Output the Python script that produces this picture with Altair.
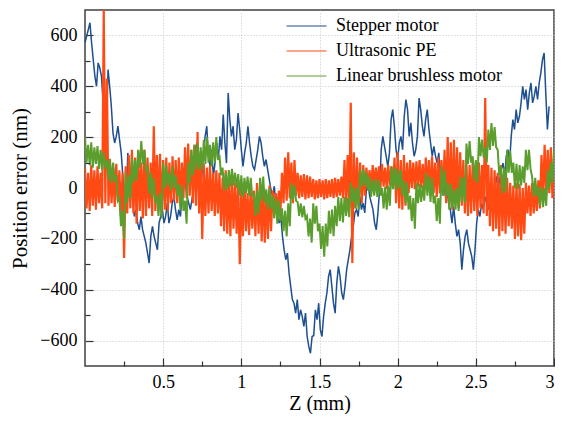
import altair as alt
import pandas as pd

series = ["Stepper motor", "Ultrasonic PE", "Linear brushless motor"]
colors = ["#1d4f91", "#ff4a14", "#5c9e2e"]

# Stepper motor: sampled every 1/95 mm
blue = [571,597,623,650,571,505,440,400,492,472,
 440,335,269,230,466,400,321,217,177,203,
 243,190,138,46,-52,-85,138,72,20,-59,
 -112,-85,-138,-164,-112,-164,-190,-217,-256,-295,
 -190,-151,-190,-217,-243,-138,-112,-85,-138,-112,
 -59,-138,-112,-59,-33,-85,-125,-85,-112,-33,
 7,20,-33,-59,-85,-46,-7,151,177,125,
 -33,46,138,203,243,125,85,151,46,98,
 177,112,203,151,289,177,98,374,269,203,
 243,151,190,295,230,151,85,138,177,243,
 177,125,85,72,112,151,203,177,125,85,
 112,72,33,-7,-33,7,-59,-112,-138,-112,
 -190,-243,-282,-256,-334,-387,-439,-453,-492,-439,
 -518,-479,-505,-544,-492,-584,-623,-650,-584,-580,
 -479,-518,-453,-557,-584,-505,-453,-413,-348,-321,
 -387,-453,-492,-374,-308,-348,-413,-439,-387,-321,
 -282,-243,-190,-151,-98,-85,-112,-33,-85,-59,
 -98,-7,20,-33,-59,-85,-138,-164,-98,-7,
 151,203,164,125,85,138,269,308,243,151,
 112,177,203,151,282,348,308,203,256,177,
 125,151,203,354,308,243,203,269,308,230,
 177,125,164,125,98,138,46,-7,20,-33,
 -7,-59,-85,-138,-72,-138,-190,-164,-217,-321,
 -243,-190,-164,-217,-243,-269,-321,-243,-138,-85,
 -112,-59,-85,-33,-59,-85,-33,-7,-46,7,
 46,-7,33,72,98,46,125,151,98,203,
 269,230,308,256,282,335,400,348,387,308,
 374,413,335,361,400,348,413,453,505,531,
 374,230,321]
blue_step = 1 / 95

# Ultrasonic PE: sampled every 0.01 mm
orange = [80,-80,60,-90,90,-70,70,-85,85,-60,
 60,-80,700,-60,430,-70,90,-60,80,-75,
 95,-50,70,-110,60,-275,85,-100,130,-80,
 150,-100,120,-140,145,-90,100,-120,150,-110,
 120,-80,100,-110,243,-90,130,-80,135,-100,
 110,-85,120,-90,100,-60,125,-50,110,-60,
 120,-50,100,-40,160,-40,175,-30,150,-60,
 170,-70,220,-100,100,-200,95,-110,80,-100,
 90,-90,60,-110,70,-100,60,-150,40,-170,
 70,-180,30,-190,50,-160,20,-180,30,-300,
 0,-190,20,-170,-20,-185,10,-160,-10,-190,
 20,-180,10,-210,0,-215,-20,-200,10,-170,
 -10,-100,-20,-90,-10,-95,60,-60,120,-50,
 140,-40,100,-60,110,-30,60,-40,50,-35,
 55,-45,50,-40,45,-35,35,-45,30,-40,
 35,-35,30,-45,35,-40,30,-35,35,-40,
 40,-35,35,-30,45,-40,110,-60,130,-80,
 335,-295,140,-80,120,-70,100,-60,90,-30,
 80,0,70,-10,90,0,80,10,85,0,
 95,5,80,-5,90,10,85,0,120,-60,
 140,-80,110,-85,130,-70,100,-20,110,0,
 100,-5,105,5,110,0,95,-5,120,-10,
 110,-30,125,-20,100,-35,120,-20,110,-30,
 150,-60,200,-70,180,-85,190,-60,160,-80,
 140,-70,110,-100,100,-110,90,-100,110,-90,
 80,-110,100,-80,90,-100,354,-110,90,-150,
 80,-170,70,-160,60,-190,90,-170,50,-180,
 40,-150,20,-160,10,-200,20,-190,15,-205,
 0,-180,20,-100,10,-110,20,-100,0,-90,
 30,-80,130,-40,170,-30,150,-20,160,-40,
 120]

# Linear brushless motor: sampled every 0.01 mm
green = [200,100,170,90,180,80,160,95,165,75,
 150,70,140,80,110,30,115,20,100,25,
 50,-50,-40,-150,-90,-200,60,-60,50,-40,
 120,20,110,30,150,80,185,95,150,70,
 80,-20,60,-40,40,-60,-30,-110,-20,-120,
 100,0,90,10,60,-10,85,0,50,-30,
 15,-85,10,-90,-50,-140,100,20,150,50,
 170,70,175,75,160,70,190,95,200,100,
 170,85,180,100,200,110,130,50,80,-10,
 60,-5,70,5,75,10,60,0,55,-30,
 50,-35,40,-20,45,-30,40,-35,-20,-110,
 -10,-100,40,-50,45,-60,-5,-85,0,-80,
 -30,-120,-40,-140,-50,-130,-80,-170,-90,-190,
 -60,-150,20,-45,10,-50,-55,-110,-60,-115,
 -70,-120,-110,-190,-120,-215,-60,-140,-70,-170,
 -140,-240,-150,-270,-140,-230,-90,-180,-85,-190,
 -70,-150,-35,-130,-40,-135,-35,-110,-40,-115,
 20,-55,5,-80,0,-85,70,5,75,10,
 60,-10,45,-35,30,-30,35,-35,30,-30,
 0,-80,5,-85,10,-70,85,-5,80,-10,
 75,0,70,-30,30,-60,20,-85,-30,-130,
 -40,-160,20,-60,15,-55,10,-50,60,-30,
 45,-55,40,-60,-30,-130,-40,-140,85,-30,
 70,-30,20,-85,15,-80,-5,-85,0,-90,
 45,-55,40,-60,175,95,185,100,125,30,
 110,20,200,125,190,120,160,100,230,150,
 255,165,240,160,150,50,85,-20,80,-15,
 150,60,145,60,100,0,95,-5,90,10,
 85,20,150,70,150,75,45,-35,40,-30,
 5,-70,5,-75,0,-70,70,-5,100,20,
 150]
dense_step = 0.01

x_major = [0.5, 1, 1.5, 2, 2.5, 3]
x_minor = [0.25, 0.75, 1.25, 1.75, 2.25, 2.75]
y_major = [-600, -400, -200, 0, 200, 400, 600]
y_minor = [-500, -300, -100, 100, 300, 500]

FONT = "Liberation Serif"


def frame(vals, step, name):
    return pd.DataFrame({"z": [i * step for i in range(len(vals))],
                         "err": vals, "series": name})


df = pd.concat([frame(blue, blue_step, series[0]),
                frame(orange, dense_step, series[1]),
                frame(green, dense_step, series[2])], ignore_index=True)

xs = alt.Scale(domain=[0, 3], nice=False, zero=False)
ys = alt.Scale(domain=[-700, 700], nice=False, zero=False)

x_axis = alt.Axis(values=x_major, orient="bottom", offset=-8, tickSize=8,
                  tickWidth=1.2, tickColor="#333333", domain=False, grid=True,
                  gridDash=[1, 2], gridColor="#c4c4c4", format="~g",
                  labelFont=FONT, labelFontSize=18, labelColor="black",
                  labelPadding=7, title="Z (mm)", titleFont=FONT,
                  titleFontSize=20, titleFontWeight="normal",
                  titleColor="black", titlePadding=2)
y_axis = alt.Axis(values=y_major, orient="left", offset=-8, tickSize=8,
                  tickWidth=1.2, tickColor="#333333", domain=False, grid=True,
                  gridDash=[1, 2], gridColor="#c4c4c4", format="d",
                  labelFont=FONT, labelFontSize=18, labelColor="black",
                  labelPadding=8, title="Position error (nm)",
                  titleFont=FONT, titleFontSize=21, titleFontWeight="normal",
                  titleColor="black", titlePadding=9)

legend = alt.Legend(title=None, orient="none", legendX=208.5, legendY=3,
                    symbolType="M-1.6,0H1.6", symbolSize=625,
                    symbolStrokeWidth=1, labelFont=FONT, labelFontSize=18,
                    labelColor="black", labelOffset=16.5, rowPadding=3,
                    padding=0, labelLimit=400)

X = alt.X("z:Q", scale=xs, axis=x_axis)
Y = alt.Y("err:Q", scale=ys, axis=y_axis)
C = alt.Color("series:N", scale=alt.Scale(domain=series, range=colors),
              legend=legend)

widths = [1.5, 2.2, 2.0]
layers = []
for name, w in zip(series, widths):
    layers.append(
        alt.Chart(df).transform_filter(alt.datum.series == name)
        .mark_line(strokeWidth=w, clip=True)
        .encode(x=X, y=Y, color=C)
    )
lines = alt.layer(*layers)

minor_df = pd.DataFrame({"z": x_minor, "err": y_minor})
minor = alt.Chart(minor_df).mark_point(opacity=0).encode(
    x=alt.X("z:Q", scale=xs,
            axis=alt.Axis(values=x_minor, orient="bottom", offset=-5,
                          tickSize=5, tickWidth=1.2, tickColor="#333333",
                          labels=False, domain=False, grid=False, title=None,
                          zindex=1)),
    y=alt.Y("err:Q", scale=ys,
            axis=alt.Axis(values=y_minor, orient="left", offset=-5,
                          tickSize=5, tickWidth=1.2, tickColor="#333333",
                          labels=False, domain=False, grid=False, title=None,
                          zindex=1)),
)

chart = (
    alt.layer(lines, minor)
    .resolve_scale(x="independent", y="independent")
    .properties(width=469, height=356,
                autosize=alt.AutoSizeParams(type="none"),
                padding={"top": 2, "left": 77, "right": 1, "bottom": 48})
    .configure(font=FONT)
    .configure_axis(labelFont=FONT, titleFont=FONT)
    .configure_legend(labelFont=FONT)
    .configure_view(stroke="#404040", strokeWidth=1.5)
)

chart.save("out.html", embed_options={"renderer": "svg", "actions": False})
